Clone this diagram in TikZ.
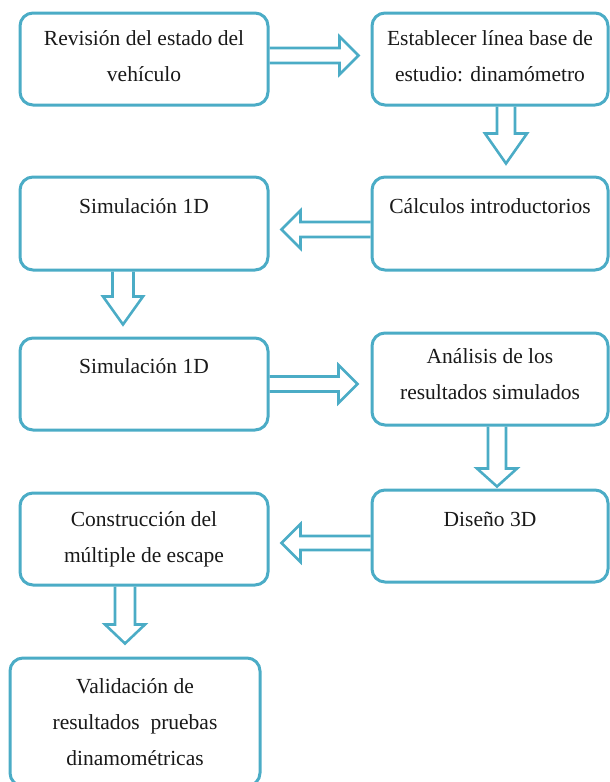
\documentclass[tikz,border=0pt]{standalone}
\usepackage{fontspec}
\setmainfont{Liberation Serif}
\usetikzlibrary{calc}
\definecolor{acc}{RGB}{75,172,198}
\tikzset{
  box/.style={draw=acc, line width=3pt, rounded corners=13pt, rectangle, inner sep=0pt, fill=white},
  txt/.style={font=\fontsize{21.5}{36}\selectfont, align=center, inner sep=0pt, text=black!90},
  blk/.style={draw=acc, line width=2.6pt, line join=miter}
}
\newcommand\blockarrow[6]{%
  \begin{scope}[shift={#1}, rotate=#2]
    \draw[blk] (0,#5) -- (#3,#5) -- (#3,#6) -- (#3+#4,0) -- (#3,-#6) -- (#3,-#5) -- (0,-#5);
  \end{scope}}
\begin{document}
\begin{tikzpicture}[x=1pt,y=-1pt]
\useasboundingbox (0,0) rectangle (610,782);
\clip (0,0) rectangle (610,782);
% boxes
\node[box, minimum width=248pt, minimum height=92pt] (b1) at (144,59) {};
\node[box, minimum width=236pt, minimum height=92pt] (b2) at (490,59) {};
\node[box, minimum width=236pt, minimum height=93pt] (b3) at (490,223.5) {};
\node[box, minimum width=248pt, minimum height=93pt] (b4) at (144,223.5) {};
\node[box, minimum width=248pt, minimum height=92pt] (b5) at (144,384) {};
\node[box, minimum width=236pt, minimum height=92pt] (b6) at (490,379) {};
\node[box, minimum width=236pt, minimum height=92pt] (b7) at (490,536) {};
\node[box, minimum width=248pt, minimum height=92pt] (b8) at (144,539) {};
\node[box, minimum width=250pt, minimum height=128pt] (b9) at (135,722) {};
% texts (base anchor = baseline of the last line)
\node[txt, anchor=base] (t1) at ($(b1.north)+(0,70)$) {Revisión del estado del\\vehículo};
\node[txt, anchor=base] (t2) at ($(b2.north)+(0,70)$) {Establecer línea base de\\estudio: dinamómetro};
\node[txt, anchor=base] (t3) at ($(b3.north)+(0,38)$) {Cálculos introductorios};
\node[txt, anchor=base] (t4) at ($(b4.north)+(0,38)$) {Simulación 1D};
\node[txt, anchor=base] (t5) at ($(b5.north)+(0,37)$) {Simulación 1D};
\node[txt, anchor=base] (t6) at ($(b6.north)+(0,68)$) {Análisis de los\\resultados simulados};
\node[txt, anchor=base] (t7) at ($(b7.north)+(0,38)$) {Diseño 3D};
\node[txt, anchor=base] (t8) at ($(b8.north)+(0,71)$) {Construcción del\\múltiple de escape};
\node[txt, anchor=base] (t9) at ($(b9.north)+(0,109)$) {Validación de\\resultados~ pruebas\\dinamométricas};
% block arrows
\blockarrow{($(b1.east)+(0,-3.5)$)}{0}{70}{19}{7.5}{19}
\blockarrow{($(b2.south)+(16,0)$)}{-90}{27}{30}{9}{21}
\blockarrow{($(b3.west)+(0,6)$)}{180}{70}{19}{7.5}{19}
\blockarrow{($(b4.south)+(-21,0)$)}{-90}{25}{28}{10.5}{20}
\blockarrow{($(b5.east)+(0,0)$)}{0}{69}{19}{7.5}{19}
\blockarrow{($(b6.south)+(7,0)$)}{-90}{42}{18}{9}{20}
\blockarrow{($(b7.west)+(0,7)$)}{180}{70}{19}{7}{19}
\blockarrow{($(b8.south)+(-19,0)$)}{-90}{38}{19}{10}{20}
\end{tikzpicture}
\end{document}
